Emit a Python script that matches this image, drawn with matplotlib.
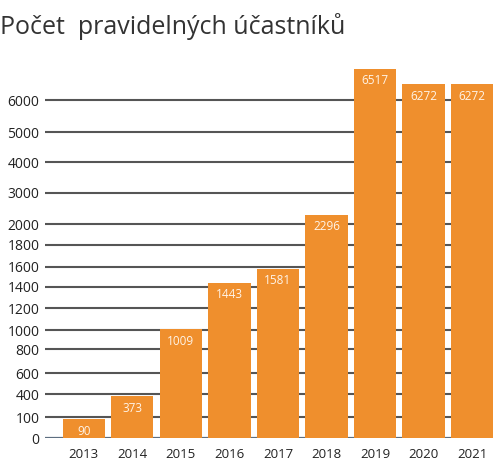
import numpy as np
import matplotlib
matplotlib.use("Agg")
import matplotlib.pyplot as plt
from matplotlib.scale import FuncScale

years = ["2013", "2014", "2015", "2016", "2017", "2018", "2019", "2020", "2021"]
participants = [90, 373, 1009, 1443, 1581, 2296, 6517, 6272, 6272]
y_ticks = [0, 100, 400, 600, 800, 1000, 1200, 1400, 1600, 1800, 2000, 3000, 4000, 5000, 6000]
title = "Počet  pravidelných účastníků"

# piecewise axis of the original (value knots -> relative height)
knot_vals = np.array([0, 100, 400, 600, 800, 1000, 1200, 1400, 1600, 1800, 2000,
                      3000, 4000, 5000, 6000, 6272, 6517, 6800], dtype=float)
knot_pos = 438 - np.array([438, 417, 394, 373, 349, 330, 308, 287, 267, 245, 224,
                           193, 162, 132, 100, 84, 69, 52], dtype=float)

def fwd(v):
    return np.interp(v, knot_vals, knot_pos)

def inv(p):
    return np.interp(p, knot_pos, knot_vals)

W, H = 493, 461
fig = plt.figure(figsize=(W / 100, H / 100), dpi=100)
ax_left, ax_right, ax_bottom, ax_top = 45, 493, 438, 52
ax = fig.add_axes([ax_left / W, 1 - ax_bottom / H, (ax_right - ax_left) / W, (ax_bottom - ax_top) / H])
ax.set_yscale(FuncScale(ax, (fwd, inv)))
ax.set_ylim(0, 6800)

x = np.arange(len(years))
ax.set_xlim(-0.80, 8.43)

font = "Open Sans"
for t in y_ticks:
    if t == 0:
        ax.axhline(t, color="#5d6e80", lw=1.6, zorder=1)
    else:
        ax.axhline(t, color="#555555", lw=1.5, zorder=1)

bars = ax.bar(x, participants, width=0.87, color="#EF8F2D", zorder=2)
for xi, v in zip(x, participants):
    yp = inv(fwd(v) - 12)
    ax.text(xi, yp, str(v), ha="center", va="center", color="#fff4e8",
            fontsize=8.5, family=font, zorder=3)

ax.set_yticks(y_ticks)
ax.set_yticklabels([str(t) for t in y_ticks], family=font, fontsize=10, color="#222222")
ax.yaxis.set_minor_locator(matplotlib.ticker.NullLocator())
ax.set_xticks(x)
ax.set_xticklabels(years, family=font, fontsize=9.5, color="#222222")
ax.tick_params(axis="y", length=0, pad=4)
ax.tick_params(axis="x", length=0, pad=7)
for s in ax.spines.values():
    s.set_visible(False)

fig.text(0 / W, 1 - 27 / H, title, ha="left", va="center", fontsize=18,
         family=font, color="#333333")

fig.savefig("out.png", dpi=100)
